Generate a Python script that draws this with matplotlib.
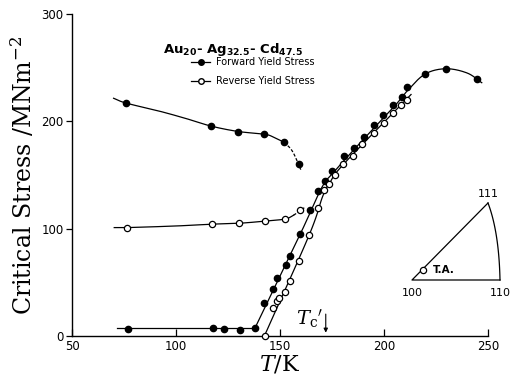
import numpy as np
import matplotlib
matplotlib.use("Agg")
import matplotlib.pyplot as plt
from matplotlib.lines import Line2D

plt.rcParams["mathtext.fontset"] = "dejavuserif"

# ---------------- data ----------------
# Forward yield stress, upper (decreasing) branch
fwd_up_T = [76, 117, 130, 142.5, 152, 159]
fwd_up_S = [217, 195.5, 190.5, 188, 180.5, 160]
# Forward yield stress, low-stress branch + rising branch
fwd_T = [77, 118, 123, 131, 138, 142.3, 146.5, 148.4, 152.9, 155, 159.5, 164.4,
         168.2, 171.4, 175.2, 180.6, 185.7, 190.3, 195.2, 199.6, 204.3, 208.7,
         211.1, 219.7, 229.7, 244.6]
fwd_S = [6.5, 7.7, 6.5, 6, 7, 31, 43.4, 53.7, 66.3, 74.4, 94.6, 117.2,
         135, 144.5, 154, 167.5, 175, 185, 196.5, 205.8, 215.5, 222.8,
         232, 244.2, 248.7, 239.7]
# Reverse yield stress, upper (flat) branch
rev_up_T = [76.3, 117.5, 130.1, 142.6, 152.5, 159.6]
rev_up_S = [101, 104, 105, 107, 109, 117]
# Reverse yield stress, rising branch
rev_T = [143, 146.8, 148.4, 149.6, 152.5, 154.8, 159.3, 164.1, 168.4, 171.3,
         173.7, 176.5, 180.4, 185.2, 189.6, 195.2, 200, 204.2, 208.2, 210.9]
rev_S = [0, 26, 33, 35, 40.6, 51.4, 69.8, 94, 118.8, 136,
         141.4, 150, 160.6, 167.7, 178.5, 189.5, 198.4, 208.1, 214.9, 220.2]

# hand-drawn guide curves (knots)
fwd_up_line_T = [70, 76, 92, 105, 117, 130, 142.5, 146.8, 152]
fwd_up_line_S = [221.5, 217, 209.5, 202.5, 195.5, 190.5, 188, 185.4, 180.5]
fwd_up_dash_T = [152, 156, 160]
fwd_up_dash_S = [180.5, 172, 155]
fwd_flat_T = [71.5, 138]
fwd_flat_S = [7.5, 7.5]
fwd_rise_T = [138, 160, 170, 176, 190, 205, 211, 219.7, 229.7, 240, 247]
fwd_rise_S = [7.5, 96, 138, 153, 183, 214, 228, 244, 249, 245, 236]
rev_up_line_T = [70.3, 76.3, 100, 117.5, 130.1, 142.6, 152.5, 156.5]
rev_up_line_S = [101, 101, 102.5, 104.2, 105, 107, 109, 112.5]
rev_up_dash_T = [156.5, 159.6, 162]
rev_up_dash_S = [112.5, 116.5, 120]
rev_line_T = [142.5, 164, 170.5, 174, 181, 213]
rev_line_S = [0, 94, 130, 143, 161, 225]

x_ticks = [50, 100, 150, 200, 250]
y_ticks = [0, 100, 200, 300]
Tc_prime = 172

# ---------------- helpers ----------------
def spline(xs, ys, n=24):
    xs = np.asarray(xs, float); ys = np.asarray(ys, float)
    if len(xs) < 3:
        return xs, ys
    P = np.column_stack([xs * 2.08, ys * 1.075])
    P = np.vstack([2 * P[0] - P[1], P, 2 * P[-1] - P[-2]])
    out = []
    t = np.linspace(0, 1, n, endpoint=False)[:, None]
    for i in range(1, len(P) - 2):
        p0, p1, p2, p3 = P[i - 1], P[i], P[i + 1], P[i + 2]
        seg = 0.5 * ((2 * p1) + (-p0 + p2) * t + (2 * p0 - 5 * p1 + 4 * p2 - p3) * t ** 2
                     + (-p0 + 3 * p1 - 3 * p2 + p3) * t ** 3)
        out.append(seg)
    out.append(P[-2][None, :])
    out = np.vstack(out)
    return out[:, 0] / 2.08, out[:, 1] / 1.075

W, H = 523, 379
fig = plt.figure(figsize=(W / 100, H / 100), dpi=100)
ax = fig.add_axes([72 / W, 1 - 336 / H, 416 / W, 322 / H])

lw = 0.9
col = "black"
for xs, ys, ls in [(fwd_up_line_T, fwd_up_line_S, "-"),
                   (fwd_up_dash_T, fwd_up_dash_S, (0, (2.5, 1.5))),
                   (fwd_flat_T, fwd_flat_S, "-"),
                   (fwd_rise_T, fwd_rise_S, "-"),
                   (rev_up_line_T, rev_up_line_S, "-"),
                   (rev_up_dash_T, rev_up_dash_S, (0, (2.5, 1.5))),
                   (rev_line_T, rev_line_S, "-")]:
    sx, sy = spline(xs, ys)
    ax.plot(sx, sy, color=col, lw=lw, ls=ls, clip_on=False, zorder=2)

ms = 4.5
ax.plot(fwd_up_T, fwd_up_S, "o", color=col, ms=ms, clip_on=False, zorder=3)
ax.plot(fwd_T, fwd_S, "o", color=col, ms=ms, clip_on=False, zorder=3)
ax.plot(rev_up_T, rev_up_S, "o", mfc="white", mec=col, mew=0.9, ms=ms, clip_on=False, zorder=4)
ax.plot(rev_T, rev_S, "o", mfc="white", mec=col, mew=0.9, ms=ms, clip_on=False, zorder=4)

ax.set_xlim(50, 250)
ax.set_ylim(0, 300)
for s in ["top", "right"]:
    ax.spines[s].set_visible(False)
ax.spines["left"].set_linewidth(1.0)
ax.spines["bottom"].set_linewidth(1.0)
ax.set_xticks(x_ticks)
ax.set_yticks(y_ticks)
ax.tick_params(axis="x", direction="in", length=5, width=0.9, labelsize=8.5, pad=3)
ax.tick_params(axis="y", direction="out", length=4, width=0.9, labelsize=8.5, pad=2)

ax.set_ylabel("Critical Stress /MNm$^{-2}$", family="DejaVu Serif", fontsize=17)
ax.yaxis.set_label_coords(-0.083, 0.5)
ax.set_xlabel("$T$/K", family="DejaVu Serif", fontsize=16, labelpad=0)

# Tc' marker
ax.annotate("", xy=(Tc_prime, 0.5), xytext=(Tc_prime, 23),
            arrowprops=dict(arrowstyle="-|>", color=col, lw=0.8, mutation_scale=6))
ax.text(Tc_prime - 1.2, 16, "$T_{\\mathrm{c}}{}'$", ha="right", va="center",
        fontsize=14)

# composition label
fig.text(163 / W, 1 - 50 / H,
         "Au$_{\\mathbf{20}}$- Ag$_{\\mathbf{32.5}}$- Cd$_{\\mathbf{47.5}}$",
         fontsize=9.5, fontweight="bold", ha="left", va="center",
         math_fontfamily="dejavusans")

# legend
h1 = Line2D([], [], color=col, lw=lw, marker="o", ms=4, mfc=col)
h2 = Line2D([], [], color=col, lw=lw, marker="o", ms=4, mfc="white", mec=col)
fig.legend([h1, h2], ["Forward Yield Stress", "Reverse Yield Stress"],
           loc="upper left", bbox_to_anchor=(191 / W, 1 - 57 / H),
           frameon=False, fontsize=7, handlelength=2.0, handletextpad=0.6,
           labelspacing=0.95, borderpad=0, borderaxespad=0)

# inset stereographic triangle (figure pixel coordinates)
ins = fig.add_axes([0, 0, 1, 1], facecolor="none")
ins.set_xlim(0, W); ins.set_ylim(H, 0); ins.axis("off")
v100 = (412, 280); v110 = (500, 280); v111 = (488, 203)
ins.plot([v110[0], v100[0], v111[0]], [v110[1], v100[1], v111[1]], color=col, lw=0.9)
tt = np.linspace(0, 1, 40)
ctrl = (499, 232)
bx = (1 - tt) ** 2 * v111[0] + 2 * (1 - tt) * tt * ctrl[0] + tt ** 2 * v110[0]
by = (1 - tt) ** 2 * v111[1] + 2 * (1 - tt) * tt * ctrl[1] + tt ** 2 * v110[1]
ins.plot(bx, by, color=col, lw=0.9)
ins.plot([423], [270], "o", mfc="white", mec=col, mew=0.9, ms=4.5)
ins.text(433, 270, "T.A.", fontsize=7.5, fontweight="bold", ha="left", va="center")
ins.text(412, 293, "100", fontsize=8, ha="center", va="center")
ins.text(500, 293, "110", fontsize=8, ha="center", va="center")
ins.text(488, 194, "111", fontsize=8, ha="center", va="center")

fig.savefig("out.png", dpi=100)
